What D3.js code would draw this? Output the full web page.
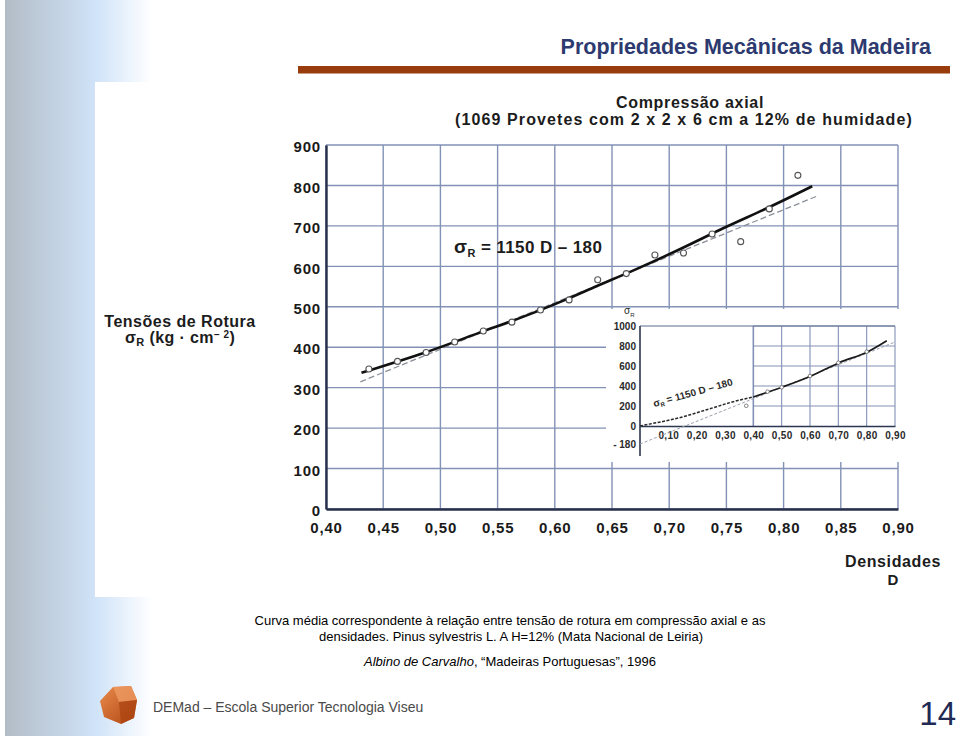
<!DOCTYPE html>
<html><head><meta charset="utf-8">
<script src="https://cdn.jsdelivr.net/npm/d3@7"></script>
<style>
html,body{margin:0;padding:0;background:#fff;}
svg{display:block;font-family:"Liberation Sans",Arial,Helvetica,sans-serif;}
</style></head><body>
<svg id="c" width="960" height="736"></svg>
<script>
// ---------- data ----------
const xTicks = [0.40,0.45,0.50,0.55,0.60,0.65,0.70,0.75,0.80,0.85,0.90];
const xTickLabels = ["0,40","0,45","0,50","0,55","0,60","0,65","0,70","0,75","0,80","0,85","0,90"];
const yTicks = [0,100,200,300,400,500,600,700,800,900];
const yTickLabels = ["0","100","200","300","400","500","600","700","800","900"];

// class mid-point densities and mean rupture stress (kg/cm2)
const pointD = [0.4375,0.4625,0.4875,0.5125,0.5375,0.5625,0.5875,0.6125,0.6375,0.6625,0.6875,0.7125,0.7375,0.7625,0.7875,0.8125];
const pointS = [346,365,387,413,440,462,492,517,567,582,628,633,680,661,742,825];

// mean curve (solid)
const curveD = [0.431,0.488,0.537,0.562,0.610,0.640,0.663,0.712,0.750,0.785,0.825];
const curveS = [337,386,440,463,517,556,582,645,699,742,798];

// regression line sigma = 1150 D - 180 (dashed), end points
const regD = [0.43,0.83];
const regS = [314.5,774.5];

// inset
const insetXTicks = [0.1,0.2,0.3,0.4,0.5,0.6,0.7,0.8,0.9];
const insetXLabels = ["0,10","0,20","0,30","0,40","0,50","0,60","0,70","0,80","0,90"];
const insetYTicks = [-180,0,200,400,600,800,1000];
const insetYLabels = ["- 180","0","200","400","600","800","1000"];
const insetGridX = [0.4,0.5,0.6,0.7,0.8,0.9];
const insetGridY = [200,400,600,800,1000];
const insetLowD = [0,0.035,0.094,0.153,0.212,0.27,0.329,0.40];
const insetLowS = [0,20,53,93,143,193,243,290];
const insetHighD = [0.40,0.50,0.604,0.703,0.804,0.871];
const insetHighS = [290,387,500,633,743,853];
const insetRegD = [0,0.9];
const insetRegS = [-180,840];
const insetPtD = [0.375,0.45,0.50,0.60,0.70,0.80];
const insetPtS = [202,343,387,500,633,743];

// ---------- drawing ----------
const svg = d3.select("#c");
const defs = svg.append("defs");
const g1 = defs.append("linearGradient").attr("id","side").attr("x1","0").attr("x2","1").attr("y1","0").attr("y2","0");
g1.append("stop").attr("offset","0%").attr("stop-color","#b2bcc6");
g1.append("stop").attr("offset","62%").attr("stop-color","#d0e3f8");
g1.append("stop").attr("offset","100%").attr("stop-color","#ffffff");
const g2 = defs.append("linearGradient").attr("id","logo").attr("x1","0").attr("x2","1").attr("y1","0").attr("y2","1");
g2.append("stop").attr("offset","0%").attr("stop-color","#e98a4d");
g2.append("stop").attr("offset","100%").attr("stop-color","#b04712");

svg.append("rect").attr("x",0).attr("y",0).attr("width",960).attr("height",736).attr("fill","#fff");
svg.append("rect").attr("x",5).attr("y",0).attr("width",147).attr("height",736).attr("fill","url(#side)");
// scanned chart panel
svg.append("rect").attr("x",95).attr("y",82).attr("width",855).attr("height",515).attr("fill","#fff");

// slide title and bar
svg.append("text").attr("x",931).attr("y",54).attr("text-anchor","end")
  .attr("font-size",21.5).attr("font-weight","bold").attr("fill","#2d3a70")
  .text("Propriedades Mecânicas da Madeira");
svg.append("rect").attr("x",298).attr("y",66).attr("width",652).attr("height",7.5).attr("fill","#983b0d");

// scales
const x = d3.scaleLinear().domain([0.40,0.90]).range([326,898]);
const y = d3.scaleLinear().domain([0,900]).range([509,145]);
const gridColor = "#8291b6";

// grid
const grid = svg.append("g");
grid.selectAll("line.v").data(xTicks).join("line")
  .attr("x1",d=>x(d)).attr("x2",d=>x(d)).attr("y1",y(900)).attr("y2",y(0))
  .attr("stroke",gridColor).attr("stroke-width",1.4);
grid.selectAll("line.h").data(yTicks).join("line")
  .attr("x1",x(0.40)).attr("x2",x(0.90)).attr("y1",d=>y(d)).attr("y2",d=>y(d))
  .attr("stroke",gridColor).attr("stroke-width",1.4);

// axes (labels)
const xAxis = svg.append("g").attr("transform",`translate(0,${y(0)})`)
  .call(d3.axisBottom(x).tickValues(xTicks).tickFormat((d,i)=>xTickLabels[i]).tickSize(0).tickPadding(13));
xAxis.select(".domain").attr("stroke","#27304a").attr("stroke-width",2.4);
xAxis.selectAll("text").attr("font-size",15).attr("font-weight","bold").attr("fill","#1a1a1a")
  .attr("font-family","Liberation Sans, Arial, sans-serif").attr("letter-spacing","0.8px");

const yAxis = svg.append("g").attr("transform",`translate(${x(0.40)},0)`)
  .call(d3.axisLeft(y).tickValues(yTicks).tickFormat((d,i)=>yTickLabels[i]).tickSize(0).tickPadding(5));
yAxis.select(".domain").attr("stroke","#27304a").attr("stroke-width",2.4);
yAxis.selectAll("text").attr("font-size",15).attr("font-weight","bold").attr("fill","#1a1a1a")
  .attr("dy","0.45em").attr("font-family","Liberation Sans, Arial, sans-serif").attr("letter-spacing","0.8px");

// axis titles and chart title
const dark = "#1c1c1c";
svg.append("text").attr("x",690).attr("y",108).attr("text-anchor","middle")
  .attr("font-size",16).attr("font-weight","bold").attr("fill",dark).attr("letter-spacing","0.7px")
  .text("Compressão axial");
svg.append("text").attr("x",684).attr("y",125).attr("text-anchor","middle")
  .attr("font-size",16).attr("font-weight","bold").attr("fill",dark).attr("letter-spacing","1.1px")
  .text("(1069 Provetes com 2 x 2 x 6 cm a 12% de humidade)");
svg.append("text").attr("x",180).attr("y",327).attr("text-anchor","middle")
  .attr("font-size",16).attr("font-weight","bold").attr("fill",dark).attr("letter-spacing","0.5px")
  .text("Tensões de Rotura");
const yl2 = svg.append("text").attr("x",180).attr("y",343).attr("text-anchor","middle")
  .attr("font-size",16).attr("font-weight","bold").attr("fill",dark).attr("letter-spacing","0.4px");
yl2.append("tspan").text("σ");
yl2.append("tspan").attr("font-size",11).attr("dy",3).text("R");
yl2.append("tspan").attr("dy",-3).text(" (kg · cm");
yl2.append("tspan").attr("font-size",10).attr("dy",-5).text("− 2");
yl2.append("tspan").attr("dy",5).text(")");
svg.append("text").attr("x",893).attr("y",567).attr("text-anchor","middle")
  .attr("font-size",16).attr("font-weight","bold").attr("fill",dark).attr("letter-spacing","0.6px")
  .text("Densidades");
svg.append("text").attr("x",893).attr("y",585).attr("text-anchor","middle")
  .attr("font-size",15).attr("font-weight","bold").attr("fill",dark).text("D");

// equation label
const eq = svg.append("text").attr("x",454).attr("y",253)
  .attr("font-size",17).attr("font-weight","bold").attr("fill",dark).attr("letter-spacing","0.4px");
eq.append("tspan").attr("font-size",19).text("σ");
eq.append("tspan").attr("font-size",11).attr("dy",4).text("R");
eq.append("tspan").attr("dy",-4).text(" = 1150 D – 180");

// ---------- inset ----------
svg.append("rect").attr("x",606).attr("y",309).attr("width",293).attr("height",153).attr("fill","#fff");
const xi = d3.scaleLinear().domain([0,0.9]).range([640,895]);
const yi = d3.scaleLinear().domain([0,1000]).range([426,326]);
const ig = svg.append("g");
ig.selectAll("line.iv").data(insetGridX).join("line")
  .attr("x1",d=>xi(d)).attr("x2",d=>xi(d)).attr("y1",yi(1000)).attr("y2",yi(0))
  .attr("stroke",gridColor).attr("stroke-width",d=>d===0.4?1.6:1.1);
ig.selectAll("line.ih").data(insetGridY).join("line")
  .attr("x1",xi(0.4)).attr("x2",xi(0.9)).attr("y1",d=>yi(d)).attr("y2",d=>yi(d))
  .attr("stroke",gridColor).attr("stroke-width",1.1);
ig.append("line").attr("x1",xi(0)).attr("x2",xi(0.9)).attr("y1",yi(1000)).attr("y2",yi(1000))
  .attr("stroke","#5d6a8c").attr("stroke-width",1.2);
const ixAxis = ig.append("g").attr("transform",`translate(0,${yi(0)})`)
  .call(d3.axisBottom(xi).tickValues(insetXTicks).tickFormat((d,i)=>insetXLabels[i]).tickSize(0).tickPadding(6));
ixAxis.select(".domain").attr("stroke","#2d3650").attr("stroke-width",1.6);
ixAxis.selectAll("text").attr("font-size",10).attr("font-weight","bold").attr("fill","#2a2a2a")
  .attr("font-family","Liberation Sans, Arial, sans-serif").attr("letter-spacing","0.3px");
const iyAxis = ig.append("g").attr("transform",`translate(${xi(0)},0)`)
  .call(d3.axisLeft(yi).tickValues(insetYTicks).tickFormat((d,i)=>insetYLabels[i]).tickSize(0).tickPadding(4));
iyAxis.select(".domain").remove();
iyAxis.selectAll("text").attr("font-size",10).attr("font-weight","bold").attr("fill","#2a2a2a")
  .attr("font-family","Liberation Sans, Arial, sans-serif");
ig.append("line").attr("x1",xi(0)).attr("x2",xi(0)).attr("y1",yi(1000)).attr("y2",yi(-300))
  .attr("stroke","#2d3650").attr("stroke-width",1.6);
const sl = ig.append("text").attr("x",xi(0)-16).attr("y",yi(1000)-12)
  .attr("font-size",10).attr("fill","#2a2a2a");
sl.append("tspan").text("σ");
sl.append("tspan").attr("font-size",6).attr("dy",3).text("R");

const liI = d3.line().x(d=>xi(d[0])).y(d=>yi(d[1]));
ig.append("path").attr("d",liI(insetRegD.map((d,i)=>[d,insetRegS[i]])))
  .attr("fill","none").attr("stroke","#9aa0ad").attr("stroke-width",1).attr("stroke-dasharray","3,2");
ig.append("path").attr("d",liI.curve(d3.curveMonotoneX)(insetLowD.map((d,i)=>[d,insetLowS[i]])))
  .attr("fill","none").attr("stroke","#2a2a2a").attr("stroke-width",1.5).attr("stroke-dasharray","3,1.5");
ig.append("path").attr("d",liI.curve(d3.curveMonotoneX)(insetHighD.map((d,i)=>[d,insetHighS[i]])))
  .attr("fill","none").attr("stroke","#1a1a1a").attr("stroke-width",1.7);
ig.selectAll("circle").data(insetPtD).join("circle")
  .attr("cx",d=>xi(d)).attr("cy",(d,i)=>yi(insetPtS[i])).attr("r",1.8)
  .attr("fill","#fff").attr("stroke","#666").attr("stroke-width",0.8);
const ieq = ig.append("text").attr("transform",`translate(${xi(0.05)},${yi(190)}) rotate(-15.5)`)
  .attr("font-size",10).attr("font-weight","bold").attr("fill","#2a2a2a");
ieq.append("tspan").text("σ");
ieq.append("tspan").attr("font-size",6).attr("dy",2).text("R");
ieq.append("tspan").attr("dy",-2).text(" = 1150 D – 180");

// ---------- main lines & points ----------
const li = d3.line().x(d=>x(d[0])).y(d=>y(d[1]));
svg.append("path").attr("d",li(regD.map((d,i)=>[d,regS[i]])))
  .attr("fill","none").attr("stroke","#8a8f99").attr("stroke-width",1.3).attr("stroke-dasharray","6,3");
svg.append("path").attr("d",li.curve(d3.curveBasis)(curveD.map((d,i)=>[d,curveS[i]])))
  .attr("fill","none").attr("stroke","#111").attr("stroke-width",2.6);
svg.append("g").selectAll("circle").data(pointD).join("circle")
  .attr("cx",d=>x(d)).attr("cy",(d,i)=>y(pointS[i])).attr("r",3)
  .attr("fill","#fff").attr("stroke","#555").attr("stroke-width",1.1);

// ---------- captions ----------
const cap = svg.append("g").attr("font-size",13).attr("fill","#000").attr("text-anchor","middle");
cap.append("text").attr("x",510).attr("y",625)
  .text("Curva média correspondente à relação entre tensão de rotura em compressão axial e as");
cap.append("text").attr("x",511).attr("y",641)
  .text("densidades. Pinus sylvestris L. A H=12% (Mata Nacional de Leiria)");
const c3 = cap.append("text").attr("x",510).attr("y",666);
c3.append("tspan").attr("font-style","italic").text("Albino de Carvalho");
c3.append("tspan").text(", “Madeiras Portuguesas”, 1996");

// footer
svg.append("text").attr("x",153).attr("y",712).attr("font-size",14).attr("fill","#4a4a4a")
  .text("DEMad – Escola Superior Tecnologia Viseu");
svg.append("text").attr("x",956).attr("y",725).attr("text-anchor","end").attr("font-size",33)
  .attr("fill","#1f2a55").text("14");

// logo
const lg = svg.append("g");
lg.append("polygon").attr("points","113,687 131,686 137,700 134,718 121,724 104,717 100,701")
  .attr("fill","url(#logo)");
lg.append("polygon").attr("points","113,687 131,686 137,700 119,702")
  .attr("fill","#ee9a62").attr("opacity",0.8);
lg.append("polygon").attr("points","119,702 137,700 134,718 121,724")
  .attr("fill","#a9410f").attr("opacity",0.7);
</script>
</body></html>
